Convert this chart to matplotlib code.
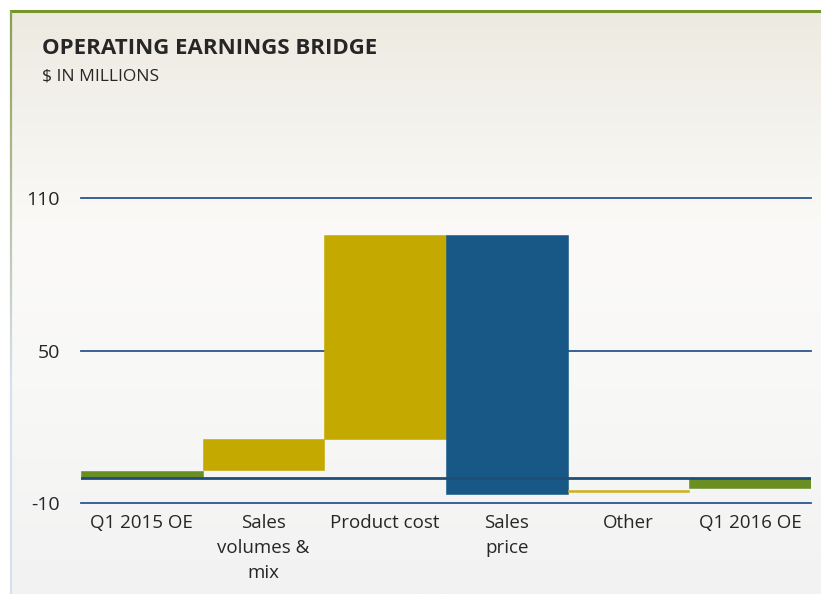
import numpy as np
import matplotlib.pyplot as plt
from matplotlib.collections import LineCollection

categories = ['Q1 2015 OE', 'Sales\nvolumes &\nmix', 'Product cost', 'Sales\nprice', 'Other', 'Q1 2016 OE']
bar_start = [0.0, 2.9, 15.2, 95.5, -5.7, 0.0]
bar_end = [2.4, 15.2, 95.5, -6.3, -5.0, -4.1]
bar_colors = ['#6B8E23', '#C4A900', '#C4A900', '#185886', '#CDB21C', '#6B8E23']
y_ticks = [-10, 50, 110]

plt.rcParams['font.family'] = ['Open Sans', 'DejaVu Sans']

W, H = 821, 594
fig = plt.figure(figsize=(W / 100, H / 100), dpi=100)
fig.patch.set_facecolor('white')

# background panel with soft vertical gradient
bg = fig.add_axes([11 / W, 0, 1 - 11 / W, 1 - 11 / H])
stops_y = [0.0, 0.35, 0.62, 1.0]
stops_c = np.array([[0xF2, 0xF2, 0xF2], [0xF8, 0xF8, 0xF7], [0xFB, 0xFA, 0xF8], [0xED, 0xEA, 0xE1]]) / 255
yy = np.linspace(0, 1, 300)
grad = np.stack([np.interp(yy, stops_y, stops_c[:, k]) for k in range(3)], axis=-1)
bg.imshow(grad[:, None, :], aspect='auto', origin='lower', extent=[0, 1, 0, 1])
bg.set_xlim(0, 1)
bg.set_ylim(0, 1)
bg.axis('off')

# frame: green top line, left line fading from green to light blue
fig.add_artist(plt.Line2D([10.5 / W, 1], [1 - 11 / H, 1 - 11 / H], transform=fig.transFigure,
                          color='#76962C', linewidth=2.2))
ys = np.linspace(1 - 11 / H, 0, 60)
segs = [[(11 / W, ys[i]), (11 / W, ys[i + 1])] for i in range(len(ys) - 1)]
top_c = np.array([0x8A, 0xA0, 0x50]) / 255
bot_c = np.array([0xD8, 0xE0, 0xEE]) / 255
cols = [tuple(top_c + (bot_c - top_c) * min(1, (i / 59) * 1.6)) for i in range(59)]
fig.add_artist(LineCollection(segs, colors=cols, linewidths=1.6, transform=fig.transFigure))

fig.text(42 / W, 1 - 48 / H, 'OPERATING EARNINGS BRIDGE', fontsize=16, fontweight='bold',
         color='#262626', va='center', ha='left')
fig.text(42 / W, 1 - 77 / H, '$ IN MILLIONS', fontsize=12.5, color='#262626', va='center', ha='left')

ax = fig.add_axes([81 / W, 1 - 503 / H, (811 - 81) / W, (503 - 198) / H])
ax.patch.set_alpha(0)
x = np.arange(len(categories))
lows = np.minimum(bar_start, bar_end)
heights = np.abs(np.array(bar_end) - np.array(bar_start))
ax.bar(x, heights, bottom=lows, width=1.0, color=bar_colors, edgecolor=bar_colors,
       linewidth=0.4, zorder=3)

for t in y_ticks:
    ax.axhline(t, color='#2B5690', linewidth=1.3, zorder=1, clip_on=False)
ax.axhline(0, color='#1F4E79', linewidth=2.0, zorder=4)

ax.set_xlim(-0.5, len(categories) - 0.5)
ax.set_ylim(-10, 110)
ax.set_yticks(y_ticks)
ax.set_yticklabels([str(t) for t in y_ticks], fontsize=14, color='#262626')
ax.set_xticks(x)
ax.set_xticklabels(categories, fontsize=13.5, color='#262626', linespacing=1.5, va='top')
ax.tick_params(axis='y', length=0, pad=15)
ax.tick_params(axis='x', length=0, pad=8)
for s in ax.spines.values():
    s.set_visible(False)

plt.savefig('out.png', dpi=100)
